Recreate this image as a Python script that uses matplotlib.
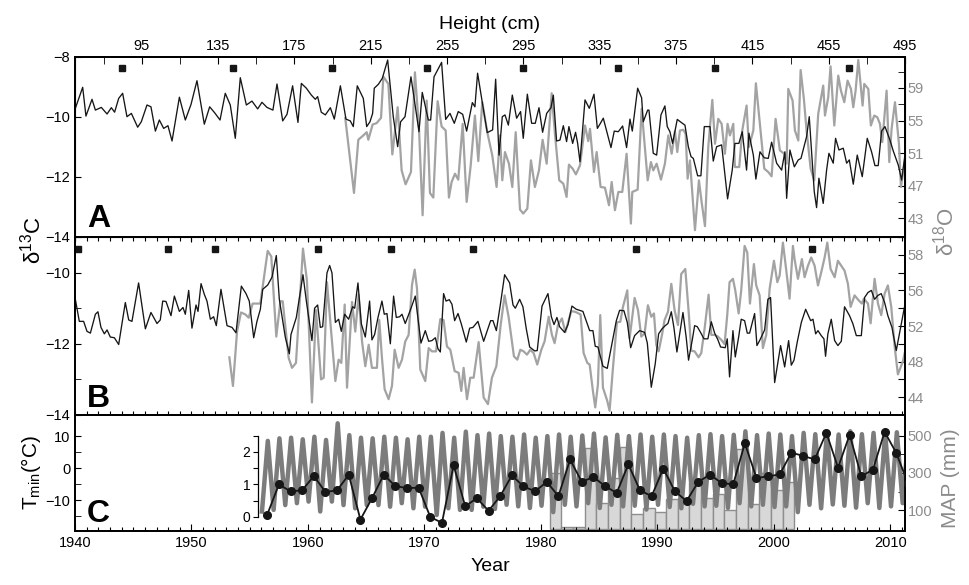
import numpy as np
import matplotlib
matplotlib.use('Agg')
import matplotlib.pyplot as plt
import matplotlib.transforms as mtransforms
from matplotlib.ticker import MultipleLocator, FixedLocator, FixedFormatter, NullFormatter

plt.rcParams['font.family'] = ['Liberation Sans', 'DejaVu Sans']
plt.rcParams['mathtext.fontset'] = 'custom'
plt.rcParams['mathtext.rm'] = 'Liberation Sans'
plt.rcParams['mathtext.it'] = 'Liberation Sans:italic'

# ---------------- DATA ----------------
# Panel A: d13C (black, left axis) -- (year, value)
a_d13c = [(1940.03,-9.71),(1940.66,-9.01),(1940.94,-9.97),(1941.46,-9.41),(1941.75,-9.77),(1942.26,-9.68),
(1942.75,-9.90),(1943.12,-9.69),(1943.40,-9.84),(1943.75,-9.38),(1944.09,-9.21),(1944.46,-9.99),(1944.84,-9.88),
(1945.38,-10.34),(1945.69,-10.16),(1946.18,-9.60),(1946.52,-9.66),(1946.90,-10.47),(1947.24,-10.10),(1947.61,-10.38),
(1947.98,-10.29),(1948.33,-10.80),(1948.96,-9.34),(1949.47,-10.10),(1949.96,-9.58),(1950.47,-8.79),(1951.10,-10.24),
(1951.56,-9.66),(1951.99,-9.86),(1952.45,-10.10),(1952.90,-9.21),(1953.33,-9.60),(1953.76,-10.71),(1954.19,-8.69),
(1954.71,-9.60),(1955.19,-9.47),(1955.68,-9.73),(1956.05,-9.51),(1956.48,-9.68),(1956.99,-9.77),(1957.34,-8.90),
(1957.83,-10.13),(1958.20,-9.91),(1958.68,-8.96),(1959.14,-10.18),(1959.43,-8.88),(1959.86,-9.04),(1960.29,-9.27),
(1960.63,-9.41),(1960.83,-9.32),(1961.14,-9.84),(1961.49,-9.93),(1961.92,-9.69),(1962.26,-10.07),(1962.78,-8.96),
(1963.26,-10.07),(1963.63,-10.13),(1963.89,-10.32),(1964.23,-8.96),(1964.75,-9.38),(1965.04,-10.32),(1965.32,-10.16),
(1965.55,-9.88),(1965.69,-9.04),(1966.04,-8.91),(1966.38,-8.71),(1966.84,-8.10),(1967.32,-9.99),(1967.70,-10.99),
(1967.95,-10.16),(1968.33,-9.99),(1968.84,-8.66),(1969.24,-9.71),(1969.53,-10.49),(1969.81,-9.18),(1970.33,-10.10),
(1970.53,-10.10),(1970.82,-8.66),(1971.47,-8.18),(1971.82,-10.08),(1972.19,-9.88),(1972.56,-10.21),(1972.90,-9.82),
(1973.28,-9.91),(1973.62,-10.47),(1974.11,-9.52),(1974.33,-9.66),(1974.56,-8.54),(1974.99,-9.58),(1975.39,-10.52),
(1975.85,-10.43),(1976.11,-8.74),(1976.40,-11.27),(1976.68,-9.99),(1976.91,-9.93),(1977.20,-10.27),(1977.54,-9.27),
(1977.91,-10.04),(1978.25,-9.82),(1978.48,-10.71),(1978.83,-9.24),(1979.20,-10.21),(1979.51,-10.21),(1979.83,-9.69),
(1980.14,-10.51),(1980.49,-9.88),(1980.86,-9.69),(1981.06,-9.27),(1981.34,-10.80),(1981.63,-10.77),(1981.92,-10.29),
(1982.20,-10.82),(1982.40,-10.32),(1982.72,-10.88),(1982.97,-10.51),(1983.15,-10.88),(1983.35,-11.49),(1983.78,-9.43),
(1984.15,-9.71),(1984.55,-9.24),(1984.84,-10.38),(1985.06,-10.24),(1985.35,-10.04),(1985.64,-10.47),(1986.01,-11.02),
(1986.29,-10.47),(1986.64,-10.49),(1987.01,-10.30),(1987.35,-11.02),(1987.64,-10.07),(1987.84,-10.47),(1988.30,-9.04),
(1988.64,-9.36),(1988.78,-10.16),(1989.16,-9.77),(1989.27,-9.77),(1989.64,-11.21),(1989.93,-11.27),(1990.30,-9.93),
(1990.64,-9.63),(1990.84,-10.32),(1991.07,-10.49),(1991.30,-10.88),(1991.70,-10.08),(1992.07,-10.19),(1992.36,-10.27),
(1992.65,-10.99),(1992.88,-11.32),(1993.08,-11.38),(1993.45,-11.96),(1993.73,-11.96),(1994.02,-10.32),(1994.51,-10.32),
(1994.79,-11.47),(1995.08,-10.99),(1995.51,-10.93),(1996.02,-12.73),(1996.42,-11.77),(1996.65,-10.88),(1996.99,-10.88),
(1997.28,-10.49),(1997.65,-11.77),(1997.85,-10.54),(1998.23,-11.27),(1998.45,-12.07),(1998.80,-11.16),(1999.17,-11.36),
(1999.51,-11.38),(1999.80,-10.84),(2000.23,-11.54),(2000.66,-11.77),(2000.94,-11.16),(2001.09,-12.71),(2001.37,-11.10),
(2001.75,-11.66),(2002.09,-11.43),(2002.32,-11.38),(2002.80,-10.66),(2003.03,-9.99),(2003.46,-12.49),(2003.66,-13.02),
(2003.86,-12.04),(2004.23,-12.88),(2004.52,-11.77),(2004.72,-11.21),(2005.09,-11.54),(2005.29,-10.71),(2005.58,-11.10),
(2005.95,-11.04),(2006.24,-11.54),(2006.47,-11.43),(2006.81,-12.24),(2007.15,-11.27),(2007.58,-11.99),(2008.01,-10.71),
(2008.38,-11.16),(2008.67,-11.62),(2008.95,-11.62),(2009.24,-10.47),(2009.53,-10.32),(2009.96,-10.77),(2010.24,-11.13),
(2010.67,-11.60),(2010.96,-12.10),(2011.30,-11.10)]

# Panel A: d18O (grey, right axis)
a_d18o = [(1963.20,55.3),(1963.95,46.11),(1964.32,52.64),(1964.75,53.17),(1965.04,53.57),(1965.18,52.64),(1965.55,54.51),
(1965.89,54.68),(1966.27,55.33),(1966.47,60.39),(1966.90,59.49),(1967.24,50.84),(1967.70,56.63),(1968.04,48.88),
(1968.38,47.17),(1968.84,48.68),(1969.18,60.92),(1969.53,53.98),(1969.84,43.37),(1970.19,57.45),(1970.47,46.11),
(1970.76,45.54),(1971.13,57.37),(1971.47,54.27),(1971.82,53.78),(1972.10,45.54),(1972.33,47.45),(1972.62,48.47),
(1972.90,47.74),(1973.28,54.59),(1973.62,45.01),(1973.96,49.37),(1974.33,55.61),(1974.62,50.02),(1974.96,57.25),
(1975.39,53.57),(1975.82,50.72),(1976.19,46.84),(1976.48,53.17),(1976.68,47.66),(1976.91,51.13),(1977.25,49.70),
(1977.54,46.84),(1977.83,53.57),(1978.20,44.07),(1978.48,43.58),(1978.83,44.19),(1979.14,50.11),(1979.48,46.84),
(1979.83,48.88),(1980.14,52.64),(1980.49,49.70),(1980.92,58.35),(1981.20,53.37),(1981.57,47.66),(1981.92,47.25),
(1982.20,45.62),(1982.40,49.58),(1982.72,49.09),(1983.00,48.39),(1983.35,49.49),(1983.78,54.39),(1984.06,52.47),
(1984.21,53.98),(1984.55,48.68),(1984.78,51.13),(1985.12,46.84),(1985.49,46.76),(1985.84,44.60),(1986.07,47.45),
(1986.35,43.99),(1986.64,46.23),(1986.98,46.23),(1987.35,50.92),(1987.72,42.35),(1987.84,46.23),(1988.30,46.52),
(1988.64,56.43),(1989.16,47.66),(1989.44,49.90),(1989.64,48.88),(1989.93,49.70),(1990.30,47.74),(1990.64,49.70),
(1990.93,53.17),(1991.22,50.92),(1991.50,53.70),(1991.70,51.13),(1991.93,53.78),(1992.22,53.86),(1992.42,53.37),
(1992.59,47.86),(1992.79,50.11),(1993.22,41.54),(1993.56,47.66),(1993.79,45.01),(1994.08,42.03),(1994.36,51.74),
(1994.71,57.53),(1994.94,52.15),(1995.22,55.21),(1995.51,54.59),(1995.79,50.92),(1996.02,54.59),(1996.22,53.17),
(1996.51,54.59),(1996.65,49.29),(1997.02,49.29),(1997.28,53.78),(1997.65,56.84),(1997.85,51.74),(1998.23,53.78),
(1998.45,59.57),(1998.65,56.63),(1998.85,53.78),(1999.17,49.09),(1999.51,48.68),(1999.80,48.15),(2000.14,55.21),
(2000.51,51.33),(2000.89,50.92),(2001.09,49.70),(2001.23,58.88),(2001.60,57.45),(2001.80,53.78),(2002.09,52.55),
(2002.29,61.20),(2002.57,57.65),(2002.80,53.78),(2003.15,49.09),(2003.46,47.66),(2003.80,55.82),(2004.23,59.29),
(2004.38,55.61),(2004.66,57.86),(2004.86,61.65),(2005.18,54.39),(2005.52,60.51),(2005.75,58.67),(2006.04,57.25),
(2006.32,59.90),(2006.61,58.88),(2006.81,56.63),(2007.01,58.67),(2007.24,62.43),(2007.61,56.84),(2007.75,59.49),
(2008.10,58.88),(2008.32,54.39),(2008.61,55.61),(2008.87,55.41),(2009.10,54.59),(2009.30,52.35),(2009.67,58.67),
(2009.90,49.90),(2010.10,53.98),(2010.39,57.25),(2010.73,52.15),(2010.90,46.84),(2011.30,50.51)]

# Panel B: d13C (black, left axis)
b_d13c = [(1940.03,-10.75),(1940.37,-11.37),(1940.74,-11.37),(1941.03,-11.65),(1941.32,-11.70),(1941.75,-11.17),
(1941.97,-11.10),(1942.23,-11.54),(1942.52,-11.72),(1942.75,-11.61),(1943.03,-11.81),(1943.38,-11.83),(1943.75,-12.02),
(1944.32,-10.84),(1944.61,-11.33),(1944.89,-11.37),(1945.46,-10.29),(1946.04,-11.58),(1946.52,-11.12),(1947.04,-11.43),
(1947.32,-11.33),(1947.53,-10.80),(1947.81,-10.81),(1948.24,-11.21),(1948.53,-10.66),(1948.96,-11.09),(1949.27,-10.98),
(1949.47,-11.17),(1949.76,-10.50),(1950.04,-11.56),(1950.39,-10.91),(1950.56,-11.09),(1950.82,-10.31),(1951.10,-10.61),
(1951.33,-10.80),(1951.62,-11.31),(1951.90,-11.24),(1952.13,-11.49),(1952.53,-10.47),(1953.05,-11.49),(1953.48,-11.54),
(1953.82,-11.69),(1954.28,-10.38),(1954.68,-10.59),(1954.96,-10.80),(1955.34,-11.83),(1955.62,-11.37),(1955.91,-11.03),
(1956.11,-10.47),(1956.54,-10.35),(1956.91,-10.13),(1957.28,-9.52),(1957.54,-10.75),(1958.05,-11.81),(1958.40,-12.28),
(1958.54,-11.74),(1959.00,-11.26),(1959.57,-10.06),(1959.86,-10.80),(1960.34,-11.91),(1960.57,-11.00),(1960.83,-10.91),
(1961.06,-11.54),(1961.26,-11.52),(1961.63,-10.01),(1961.86,-9.80),(1962.06,-10.01),(1962.35,-11.40),(1962.63,-11.31),
(1962.86,-11.65),(1963.15,-11.17),(1963.49,-11.31),(1963.83,-10.96),(1964.01,-11.00),(1964.29,-10.29),(1964.58,-11.44),
(1964.92,-11.81),(1965.29,-10.80),(1965.49,-11.89),(1965.72,-11.74),(1966.01,-11.26),(1966.35,-10.80),(1966.55,-11.17),
(1966.78,-11.15),(1967.07,-12.00),(1967.35,-10.66),(1967.58,-11.26),(1967.87,-11.24),(1968.07,-11.17),(1968.35,-11.43),
(1968.78,-11.06),(1969.21,-10.66),(1969.70,-11.98),(1970.07,-11.63),(1970.36,-11.93),(1970.64,-11.91),(1970.93,-11.83),
(1971.16,-12.14),(1971.36,-12.23),(1971.64,-10.59),(1971.85,-10.80),(1972.13,-10.76),(1972.36,-10.89),(1972.59,-11.35),
(1972.88,-11.15),(1973.16,-11.44),(1973.59,-11.95),(1973.88,-11.56),(1974.16,-11.54),(1974.59,-11.37),(1975.08,-11.93),
(1975.68,-11.35),(1975.88,-11.35),(1976.17,-11.63),(1976.54,-10.84),(1976.88,-10.06),(1977.31,-10.29),(1977.60,-10.91),
(1977.80,-11.00),(1978.17,-10.75),(1978.45,-10.96),(1978.74,-11.58),(1979.03,-12.09),(1979.46,-12.20),(1979.68,-12.19),
(1980.09,-10.94),(1980.60,-10.59),(1980.89,-11.24),(1981.12,-11.46),(1981.37,-11.26),(1981.60,-11.52),(1982.03,-11.68),
(1982.32,-11.46),(1982.66,-10.94),(1983.03,-11.03),(1983.60,-11.09),(1983.98,-11.44),(1984.18,-11.63),(1984.46,-11.63),
(1984.66,-12.07),(1984.89,-12.09),(1985.32,-12.63),(1985.69,-12.69),(1986.47,-11.35),(1986.75,-11.06),(1987.12,-11.07),
(1987.41,-11.40),(1987.70,-12.11),(1988.04,-11.77),(1988.47,-11.63),(1988.90,-11.68),(1989.13,-11.98),(1989.47,-13.22),
(1989.81,-12.56),(1990.10,-11.72),(1990.39,-11.58),(1990.67,-11.49),(1990.90,-11.43),(1991.19,-11.10),(1991.42,-11.56),
(1991.67,-12.23),(1992.19,-11.12),(1992.47,-11.83),(1992.67,-12.46),(1992.99,-11.89),(1993.19,-11.49),(1993.42,-11.52),
(1993.70,-11.68),(1993.99,-11.86),(1994.33,-11.86),(1994.62,-11.38),(1994.91,-11.70),(1995.19,-11.89),(1995.42,-12.09),
(1995.82,-12.11),(1995.99,-11.86),(1996.19,-12.93),(1996.48,-11.63),(1996.68,-12.37),(1996.97,-11.81),(1997.19,-11.31),
(1997.48,-11.35),(1997.71,-11.70),(1997.91,-11.70),(1998.14,-11.40),(1998.34,-11.15),(1998.54,-12.05),(1998.77,-11.91),
(1999.20,-11.61),(1999.48,-10.75),(1999.71,-10.70),(2000.06,-13.09),(2000.57,-12.05),(2000.92,-12.65),(2001.26,-11.91),
(2001.49,-12.60),(2001.72,-12.46),(2002.00,-11.95),(2002.35,-11.40),(2002.72,-11.03),(2003.15,-11.35),(2003.35,-11.31),
(2003.58,-11.72),(2003.78,-11.63),(2004.06,-11.77),(2004.29,-11.86),(2004.43,-12.35),(2004.63,-11.72),(2004.92,-11.31),
(2005.21,-11.91),(2005.49,-12.05),(2005.78,-11.93),(2006.06,-10.96),(2006.49,-11.21),(2006.78,-11.44),(2007.07,-11.77),
(2007.50,-11.77),(2007.78,-10.70),(2008.07,-10.56),(2008.36,-10.50),(2008.64,-10.75),(2008.93,-10.64),(2009.21,-10.59),
(2009.50,-10.84),(2009.78,-11.21),(2010.13,-11.54),(2010.50,-12.19),(2010.87,-11.54),(2011.22,-10.94)]

# Panel B: d18O (grey, right axis)
b_d18o = [(1953.25,48.48),(1953.56,45.26),(1953.91,51.37),(1954.25,53.52),(1954.62,53.30),(1954.91,52.93),(1955.25,54.52),
(1955.91,54.52),(1956.54,60.44),(1956.85,59.81),(1957.28,50.81),(1957.63,54.78),(1957.83,54.78),(1958.34,48.41),
(1958.63,47.30),(1958.97,47.85),(1959.57,60.70),(1959.91,57.11),(1960.34,43.41),(1960.69,53.78),(1961.12,46.00),
(1961.35,46.19),(1961.63,56.93),(1962.35,45.81),(1962.63,48.22),(1962.86,47.85),(1963.15,54.41),(1963.35,45.07),
(1963.78,54.70),(1964.06,51.37),(1964.35,55.52),(1964.64,50.26),(1964.92,47.48),(1965.21,49.89),(1965.49,47.30),
(1965.92,47.30),(1966.12,52.67),(1966.35,48.41),(1966.58,44.89),(1966.92,43.78),(1967.21,45.26),(1967.44,49.33),
(1967.78,47.30),(1968.07,48.22),(1968.35,50.26),(1968.64,51.00),(1968.93,56.63),(1969.16,58.33),(1969.36,56.19),
(1969.64,47.11),(1970.07,45.81),(1970.36,49.52),(1970.64,49.15),(1970.99,49.15),(1971.36,52.78),(1971.64,52.67),
(1971.93,49.70),(1972.22,49.33),(1972.59,46.93),(1972.93,46.74),(1973.16,44.70),(1973.36,47.30),(1973.65,43.78),
(1973.93,46.19),(1974.22,46.19),(1974.65,50.19),(1975.08,43.96),(1975.45,43.22),(1975.79,46.19),(1976.17,47.48),
(1976.54,52.11),(1976.88,55.44),(1977.22,53.04),(1977.68,48.59),(1977.97,48.22),(1978.23,49.33),(1978.51,49.15),
(1978.80,48.78),(1979.08,49.33),(1979.37,48.96),(1979.68,47.67),(1980.03,49.33),(1980.31,50.26),(1980.66,53.04),
(1980.94,51.00),(1981.17,50.07),(1981.46,52.11),(1981.80,52.85),(1982.09,51.30),(1982.60,53.67),(1982.95,53.59),
(1983.40,53.30),(1983.66,48.96),(1983.98,47.85),(1984.18,47.67),(1984.46,44.70),(1984.66,42.85),(1984.89,45.44),
(1985.09,53.22),(1985.32,45.07),(1985.69,43.59),(1985.89,42.48),(1986.18,47.30),(1986.52,52.41),(1986.81,52.48),
(1987.04,54.15),(1987.41,56.00),(1987.61,50.63),(1988.04,55.15),(1988.33,53.78),(1988.61,50.81),(1988.90,51.19),
(1989.18,54.33),(1989.47,53.04),(1989.70,53.41),(1989.90,49.89),(1990.10,49.15),(1990.39,51.00),(1990.61,52.67),
(1990.90,53.59),(1991.19,56.74),(1991.47,53.78),(1991.76,52.11),(1992.04,57.85),(1992.39,58.41),(1992.70,53.22),
(1992.90,49.22),(1993.19,49.15),(1993.53,48.48),(1993.76,48.96),(1994.05,51.74),(1994.39,55.52),(1994.62,51.00),
(1994.91,51.00),(1995.19,50.81),(1995.48,50.44),(1995.76,49.96),(1995.99,53.22),(1996.19,56.93),(1996.48,57.30),
(1996.68,56.00),(1996.97,53.41),(1997.19,56.00),(1997.48,61.00),(1997.71,60.26),(1997.94,54.52),(1998.28,58.96),
(1998.48,56.56),(1998.77,55.44),(1999.05,49.52),(1999.34,51.00),(1999.63,56.19),(2000.00,59.33),(2000.29,56.93),
(2000.49,57.67),(2000.77,61.37),(2001.06,58.22),(2001.34,55.07),(2001.63,61.00),(2001.77,59.52),(2002.06,57.30),
(2002.40,59.52),(2002.63,57.48),(2002.92,58.78),(2003.20,59.70),(2003.49,58.78),(2003.78,56.56),(2004.06,58.04),
(2004.35,59.70),(2004.58,61.37),(2004.86,58.41),(2005.21,57.48),(2005.49,59.33),(2006.06,58.22),(2006.35,56.74),
(2006.58,54.15),(2006.92,55.44),(2007.27,54.89),(2007.55,54.52),(2007.72,55.07),(2008.07,54.52),(2008.30,52.30),
(2008.64,57.30),(2008.93,54.52),(2009.21,53.22),(2009.50,55.63),(2009.78,56.56),(2010.07,54.15),(2010.36,49.70),
(2010.64,46.56),(2011.07,48.04),(2011.22,48.96)]

# Dated horizons (black squares), years
marks_a = [1944.0, 1953.6, 1962.1, 1970.2, 1978.5, 1986.6, 1994.9, 2006.4]
marks_b = [1940.3, 1948.0, 1952.0, 1960.9, 1967.1, 1974.2, 1988.2, 2003.3]

# Panel C: monthly Tmin envelope (winter low, summer high) per year
tmin_years = list(range(1956, 2012))
tmin_low = [-13.6,-13.1,-11.6,-11.0,-10.5,-13.6,-10.5,-11.6,-12.6,-11.6,-11.6,-12.1,-11.0,-12.6,-12.1,-14.7,
            -12.6,-13.1,-13.1,-12.1,-12.8,-11.5,-12.0,-12.5,-11.8,-13.8,-11.5,-12.0,-11.0,-12.5,-11.5,-12.0,
            -11.8,-13.0,-11.5,-12.2,-12.6,-11.2,-12.0,-11.8,-12.5,-11.0,-12.0,-11.5,-12.2,-12.0,-13.8,-11.5,
            -12.6,-11.4,-11.8,-12.4,-11.0,-12.5,-12.0,-11.0]
tmin_high = [8.5,9.3,9.5,9.0,9.8,8.8,14.0,10.3,9.5,9.3,9.8,9.5,9.0,9.8,9.8,11.0,9.5,11.4,10.3,10.8,
             10.0,9.8,10.5,9.5,10.0,10.5,9.8,10.2,10.8,9.6,10.4,10.0,10.5,9.8,10.5,10.0,9.5,10.3,10.6,10.0,
             10.4,11.5,10.3,10.8,10.5,10.0,11.0,10.6,11.2,10.5,11.5,10.6,11.0,10.8,11.2,10.5]
# Panel C: annual mean Tmin (black dots, inset axis)
ann_years = list(range(1956, 2012))
ann_tmin = [0.07,1.00,0.79,0.82,1.26,0.77,0.82,1.30,-0.08,0.58,1.30,0.95,0.89,0.90,0.00,-0.18,1.59,0.33,0.58,0.19,
            0.64,1.28,0.94,0.79,1.08,0.64,1.77,1.08,1.23,0.95,0.74,1.62,0.82,0.64,1.49,0.79,0.49,1.08,1.30,1.05,
            1.00,2.27,1.20,1.25,1.31,1.98,1.88,1.77,2.59,1.52,2.53,1.25,1.46,2.62,1.97,1.04]
# Panel C: annual precipitation (hydrological years)
map_years = list(range(1981, 2002))
map_mm = [300, 10, 10, 433, 136, 271, 442, 77, 109, 91, 158, 163, 248, 163, 186, 100, 430, 131, 298, 208, 253]

# ---------------- FIGURE ----------------
BLACK = '#161616'
GREY = '#a3a3a3'
LABGREY = '#8c8c8c'

fig = plt.figure(figsize=(9.69, 5.85), dpi=100)
W_, H_ = 969.0, 585.0
L = 75 / W_
Wd = 830 / W_
axA = fig.add_axes([L, 1 - 237 / H_, Wd, 180 / H_])
axB = fig.add_axes([L, 1 - 415 / H_, Wd, 178 / H_])
axC = fig.add_axes([L, 1 - 531 / H_, Wd, 116 / H_])
axA2 = axA.twinx()
axB2 = axB.twinx()
axC2 = axC.twinx()

XL = (1940, 2011.25)
for ax in (axA, axB, axC, axA2, axB2, axC2):
    ax.set_xlim(*XL)
    for s in ax.spines.values():
        s.set_linewidth(1.3)
        s.set_color('black')

# layering: primary (black) on top of twin (grey)
for main, twin in ((axA, axA2), (axB, axB2)):
    main.set_zorder(twin.get_zorder() + 1)
    main.patch.set_visible(False)
axC.set_zorder(axC2.get_zorder() + 1)
axC.patch.set_visible(False)

TL = 10.5
# ---- Panel A ----
ya, va = zip(*a_d13c)
axA.plot(ya, va, color=BLACK, lw=0.95)
yg, vg = zip(*a_d18o)
axA2.plot(yg, vg, color=GREY, lw=1.6)
axA.set_ylim(-14, -8)
axA2.set_ylim(40.7, 62.8)
axA.set_yticks([-14, -12, -10, -8])
axA.tick_params(axis='y', direction='in', length=4, labelsize=TL)
axA.tick_params(axis='x', bottom=False, labelbottom=False, top=False)
axA2.yaxis.set_major_locator(FixedLocator([43, 47, 51, 55, 59]))
axA2.yaxis.set_minor_locator(FixedLocator([45, 49, 53, 57, 61]))
axA2.tick_params(axis='y', which='both', direction='in', length=5, labelsize=TL,
                 labelcolor=LABGREY, pad=2)
axA2.tick_params(axis='x', bottom=False, top=False)
tA = mtransforms.blended_transform_factory(axA.transData, axA.transAxes)
axA.plot(marks_a, [0.939] * len(marks_a), 's', color=BLACK, ms=5, transform=tA, clip_on=False)
axA.text(0.0145, 0.055, 'A', transform=axA.transAxes, fontsize=23, fontweight='bold',
         va='baseline', ha='left')

# top axis: height
axT = axA.twiny()
axT.set_xlim(60, 495)
axT.xaxis.set_major_locator(FixedLocator(list(range(95, 496, 40))))
axT.xaxis.set_minor_locator(FixedLocator(list(range(75, 496, 40))))
axT.tick_params(axis='x', which='both', direction='in', length=5, labelsize=TL, pad=3)
axT.set_xlabel('Height (cm)', fontsize=14, labelpad=7)
axT.spines['top'].set_linewidth(1.3)

# ---- Panel B ----
yb, vb = zip(*b_d13c)
axB.plot(yb, vb, color=BLACK, lw=0.95)
yg, vg = zip(*b_d18o)
axB2.plot(yg, vg, color=GREY, lw=1.6)
axB.set_ylim(-14, -9)
axB2.set_ylim(42, 62)
axB.set_yticks([-14, -12, -10])
axB.yaxis.set_minor_locator(FixedLocator([-13, -11]))
axB.tick_params(axis='y', which='both', direction='in', length=4, labelsize=TL)
axB.xaxis.set_major_locator(MultipleLocator(1))
axB.tick_params(axis='x', which='both', direction='in', length=3, top=True, bottom=True,
                labelbottom=False, width=0.8)
axB2.yaxis.set_major_locator(FixedLocator([44, 46, 48, 50, 52, 54, 56, 58, 60, 62]))
axB2.yaxis.set_major_formatter(FixedFormatter(['44', '', '48', '', '52', '', '56', '', '58', '']))
axB2.tick_params(axis='y', direction='in', length=5, labelsize=TL, labelcolor=LABGREY, pad=2)
axB2.tick_params(axis='x', bottom=False, top=False)
tB = mtransforms.blended_transform_factory(axB.transData, axB.transAxes)
axB.plot(marks_b, [0.933] * len(marks_b), 's', color=BLACK, ms=5, transform=tB, clip_on=False)
axB.text(0.0145, 0.045, 'B', transform=axB.transAxes, fontsize=23, fontweight='bold',
         va='baseline', ha='left')

# ---- Panel C ----
bx = np.array(map_years) - 0.25
axC2.bar(bx, map_mm, width=1.0, align='edge', color='#d8d8d8', edgecolor='#8e8e8e', lw=1.0)
axC2.set_ylim(-13.5, 613.5)
axC2.yaxis.set_major_locator(FixedLocator([100, 300, 500]))
axC2.yaxis.set_minor_locator(FixedLocator([200, 400]))
axC2.tick_params(axis='y', which='both', direction='in', length=5, labelsize=TL,
                 labelcolor=LABGREY, pad=2)

ty = np.array(tmin_years, dtype=float)
zx = np.empty(2 * len(ty))
zy = np.empty(2 * len(ty))
zx[0::2] = ty + 0.05
zx[1::2] = ty + 0.55
zy[0::2] = tmin_low
zy[1::2] = tmin_high
axC.plot(zx, zy, color='#7c7c7c', lw=3.2, solid_joinstyle='round')
axC.set_ylim(-19.7, 16.6)
axC.yaxis.set_major_locator(FixedLocator([-10, 0, 10]))
axC.yaxis.set_minor_locator(FixedLocator([-15, -5, 5]))
axC.tick_params(axis='y', which='both', direction='in', length=4, labelsize=TL)
axC.xaxis.set_major_locator(MultipleLocator(10))
axC.xaxis.set_minor_locator(MultipleLocator(1))
axC.tick_params(axis='x', which='major', direction='in', length=5, labelsize=TL, top=False)
axC.tick_params(axis='x', which='minor', direction='in', length=3, top=False, width=0.8)
axC.set_xlabel('Year', fontsize=14, labelpad=6)
axC.text(0.0145, 0.078, 'C', transform=axC.transAxes, fontsize=23, fontweight='bold',
         va='baseline', ha='left')

# inset axis for annual mean Tmin
axI = fig.add_axes(axC.get_position(), sharex=None)
axI.set_zorder(axC.get_zorder() + 1)
axI.patch.set_visible(False)
axI.set_xlim(*XL)
axI.set_ylim(-0.431, 3.138)
for k in ('top', 'right', 'bottom'):
    axI.spines[k].set_visible(False)
axI.spines['left'].set_position(('data', 1955.7))
axI.spines['left'].set_bounds(0, 2.5)
axI.spines['left'].set_linewidth(0.9)
axI.set_xticks([])
axI.yaxis.set_major_locator(FixedLocator([0, 0.5, 1, 1.5, 2, 2.5]))
axI.yaxis.set_major_formatter(FixedFormatter(['0', '', '1', '', '2', '']))
axI.tick_params(axis='y', direction='out', length=3.5, labelsize=10, pad=2, width=0.8)
axI.plot(np.array(ann_years) + 0.5, ann_tmin, '-o', color=BLACK, lw=1.3, ms=5.5, clip_on=True)

# ---- axis labels ----
fig.text(33 / W_, 1 - 240 / H_, 'δ$^{13}$C', rotation=90, fontsize=16, ha='center', va='center')
fig.text(946 / W_, 1 - 232 / H_, 'δ$^{18}$O', rotation=90, fontsize=16, ha='center', va='center',
         color=LABGREY)
fig.text(31 / W_, 1 - 472 / H_, 'T$_{\\rm min}$(°C)', rotation=90, fontsize=15, ha='center',
         va='center')
fig.text(950 / W_, 1 - 478 / H_, 'MAP (mm)', rotation=90, fontsize=15, ha='center', va='center',
         color=LABGREY)

fig.savefig('out.png', dpi=100)
